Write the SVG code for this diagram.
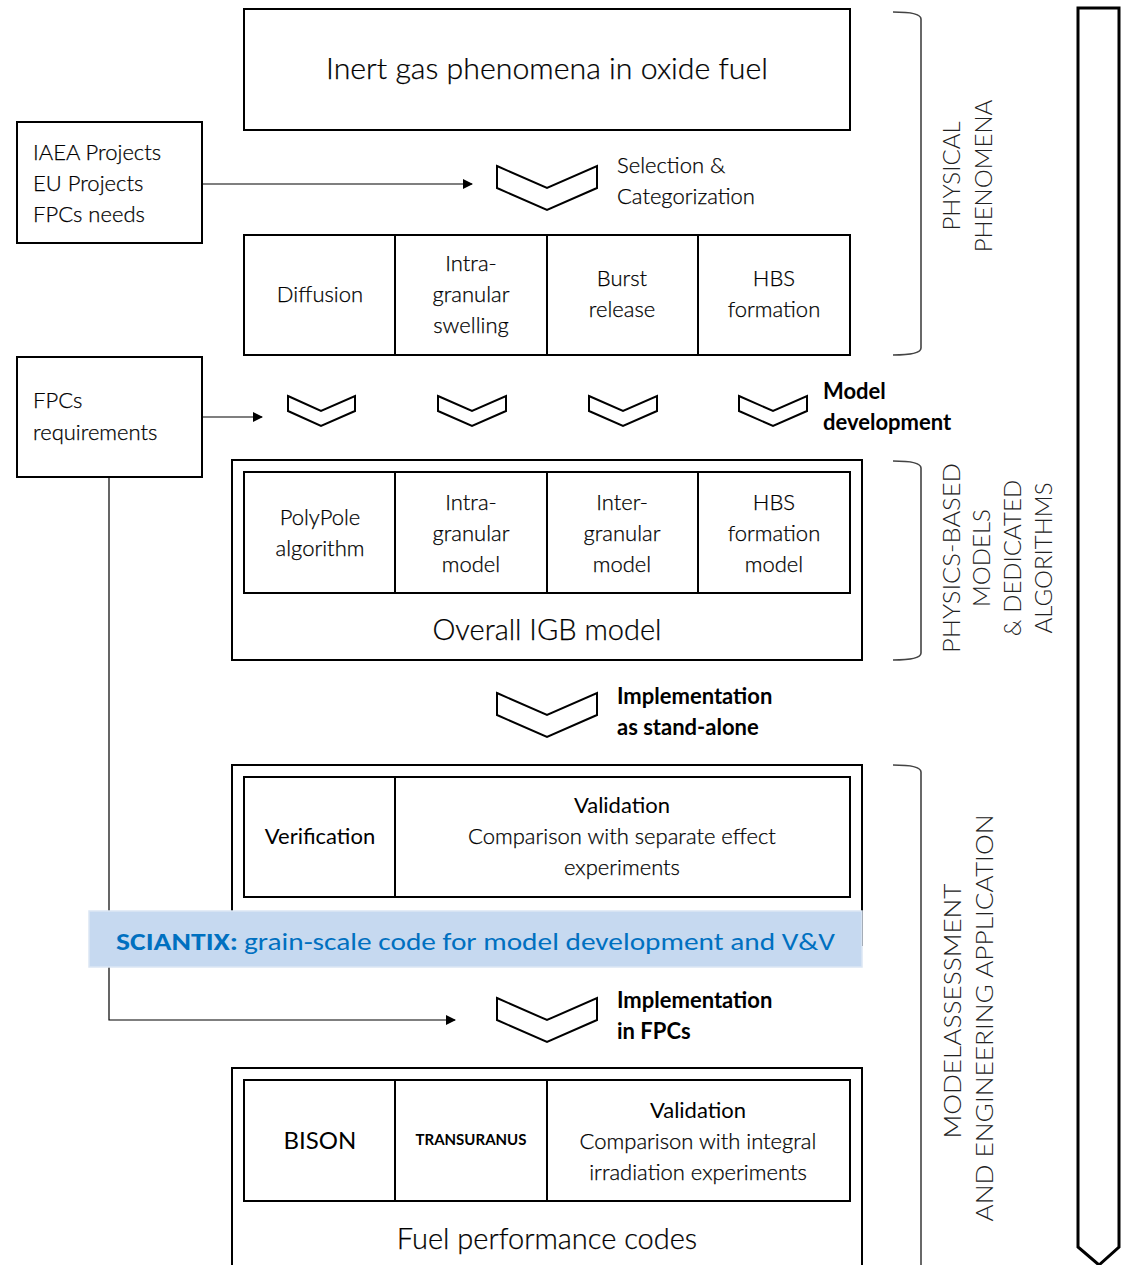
<svg xmlns="http://www.w3.org/2000/svg" width="1121" height="1265" viewBox="0 0 1121 1265">
  <style>
    .box { fill: #fff; stroke: #000; stroke-width: 2; }
    .cell { fill: none; stroke: #000; stroke-width: 2; }
    .chev { fill: #fff; stroke: #000; stroke-width: 2; stroke-linejoin: miter; }
    .brace { fill: none; stroke: #444; stroke-width: 1.6; }
    .link { fill: none; stroke: #000; stroke-width: 1.2; }
    .t { font-family: Lato, "Open Sans", "Liberation Sans", sans-serif; font-size: 22px; fill: #000; font-weight: 300; stroke: #000; stroke-width: 0.25; }
    .c { text-anchor: middle; }
    .b { font-weight: 700; stroke: none; }
    .m { font-weight: 400; stroke: none; }
    .big { font-size: 29px; }
    .code { font-size: 24px; font-weight: 400; stroke: none; }
    .tiny { font-size: 15px; }
    .side { font-family: Lato, "Open Sans", "Liberation Sans", sans-serif; font-size: 24px; fill: #222; text-anchor: middle; font-weight: 300; }
    .band { font-family: Carlito, "Open Sans", "Liberation Sans", sans-serif; font-size: 25px; fill: #0070c0; }
  </style>
  <defs>
    <marker id="arr" markerWidth="10" markerHeight="10" refX="9" refY="5" orient="auto" markerUnits="userSpaceOnUse">
      <path d="M0,0 L10,5 L0,10 Z" fill="#000"/>
    </marker>
  </defs>

  <rect width="1121" height="1265" fill="#fff"/>

  <!-- large progress arrow on the right -->
  <g id="flow-arrow">
    <path d="M1078,8 H1119 V1247 L1099,1265 L1078,1247 Z" fill="#fff" stroke="#000" stroke-width="3"/>
  </g>

  <!-- braces and stage labels -->
  <g id="stage-physical">
    <path class="brace" d="M893,12 Q921,12 921,19 V348 Q921,355 893,355"/>
    <text class="side" transform="translate(960,176) rotate(-90)">PHYSICAL</text>
    <text class="side" transform="translate(992,176) rotate(-90)">PHENOMENA</text>
  </g>
  <g id="stage-models">
    <path class="brace" d="M893,461 Q921,461 921,468 V653 Q921,660 893,660"/>
    <text class="side" transform="translate(960,558) rotate(-90)" textLength="190" lengthAdjust="spacingAndGlyphs">PHYSICS-BASED</text>
    <text class="side" transform="translate(990,558) rotate(-90)">MODELS</text>
    <text class="side" transform="translate(1021,558) rotate(-90)">&amp; DEDICATED</text>
    <text class="side" transform="translate(1052,558) rotate(-90)">ALGORITHMS</text>
  </g>
  <g id="stage-assessment">
    <path class="brace" d="M893,765 Q921,765 921,772 V1265"/>
    <text class="side" transform="translate(961,1011) rotate(-90)" textLength="255" lengthAdjust="spacingAndGlyphs">MODELASSESSMENT</text>
    <text class="side" transform="translate(993,1018) rotate(-90)" textLength="407" lengthAdjust="spacingAndGlyphs">AND ENGINEERING APPLICATION</text>
  </g>

  <!-- connectors -->
  <g id="connectors">
    <line class="link" x1="202" y1="184" x2="472" y2="184" marker-end="url(#arr)"/>
    <line class="link" x1="202" y1="417" x2="262" y2="417" marker-end="url(#arr)"/>
    <polyline class="link" points="109,477 109,1020 455,1020" marker-end="url(#arr)"/>
  </g>

  <!-- top phenomena box -->
  <g id="node-inert-gas">
    <rect class="box" x="244" y="9" width="606" height="121"/>
    <text class="t c big" x="547" y="79" textLength="442" lengthAdjust="spacingAndGlyphs">Inert gas phenomena in oxide fuel</text>
  </g>

  <g id="node-projects">
    <rect class="box" x="17" y="122" width="185" height="121"/>
    <text class="t" x="33" y="160">IAEA Projects</text>
    <text class="t" x="33" y="191">EU Projects</text>
    <text class="t" x="33" y="222">FPCs needs</text>
  </g>

  <g id="step-selection">
    <path class="chev" d="M497,166 L547,188 L597,166 V188 L547,210 L497,188 Z"/>
    <text class="t" x="617" y="173">Selection &amp;</text>
    <text class="t" x="617" y="204">Categorization</text>
  </g>

  <g id="node-phenomena">
    <rect class="box" x="244" y="235" width="606" height="120"/>
    <line class="cell" x1="395" y1="235" x2="395" y2="355"/>
    <line class="cell" x1="547" y1="235" x2="547" y2="355"/>
    <line class="cell" x1="698" y1="235" x2="698" y2="355"/>
    <text class="t c" x="320" y="302">Diffusion</text>
    <text class="t c" x="471" y="271">Intra-</text>
    <text class="t c" x="471" y="302">granular</text>
    <text class="t c" x="471" y="333">swelling</text>
    <text class="t c" x="622" y="286">Burst</text>
    <text class="t c" x="622" y="317">release</text>
    <text class="t c" x="774" y="286">HBS</text>
    <text class="t c" x="774" y="317">formation</text>
  </g>

  <g id="node-requirements">
    <rect class="box" x="17" y="357" width="185" height="120"/>
    <text class="t" x="33" y="408">FPCs</text>
    <text class="t" x="33" y="440">requirements</text>
  </g>

  <g id="step-model-development">
    <path class="chev" d="M288,396 L321,411 L355,396 V411 L321,426 L288,411 Z"/>
    <path class="chev" d="M438,396 L472,411 L506,396 V411 L472,426 L438,411 Z"/>
    <path class="chev" d="M589,396 L623,411 L657,396 V411 L623,426 L589,411 Z"/>
    <path class="chev" d="M739,396 L773,411 L807,396 V411 L773,426 L739,411 Z"/>
    <text class="t b" x="823" y="399">Model</text>
    <text class="t b" x="823" y="430">development</text>
  </g>

  <g id="node-igb-model">
    <rect class="box" x="232" y="460" width="630" height="200"/>
    <rect class="cell" x="244" y="472" width="606" height="121"/>
    <line class="cell" x1="395" y1="472" x2="395" y2="593"/>
    <line class="cell" x1="547" y1="472" x2="547" y2="593"/>
    <line class="cell" x1="698" y1="472" x2="698" y2="593"/>
    <text class="t c" x="320" y="525">PolyPole</text>
    <text class="t c" x="320" y="556">algorithm</text>
    <text class="t c" x="471" y="510">Intra-</text>
    <text class="t c" x="471" y="541">granular</text>
    <text class="t c" x="471" y="572">model</text>
    <text class="t c" x="622" y="510">Inter-</text>
    <text class="t c" x="622" y="541">granular</text>
    <text class="t c" x="622" y="572">model</text>
    <text class="t c" x="774" y="510">HBS</text>
    <text class="t c" x="774" y="541">formation</text>
    <text class="t c" x="774" y="572">model</text>
    <text class="t c big" x="547" y="640">Overall IGB model</text>
  </g>

  <g id="step-standalone">
    <path class="chev" d="M497,693 L547,715 L597,693 V715 L547,737 L497,715 Z"/>
    <text class="t b" x="617" y="704">Implementation</text>
    <text class="t b" x="617" y="735">as stand-alone</text>
  </g>

  <g id="node-vv">
    <rect class="box" x="232" y="765" width="630" height="180"/>
    <rect class="cell" x="244" y="777" width="606" height="120"/>
    <line class="cell" x1="395" y1="777" x2="395" y2="897"/>
    <text class="t c m" x="320" y="844">Verification</text>
    <text class="t c m" x="622" y="813">Validation</text>
    <text class="t c" x="622" y="844">Comparison with separate effect</text>
    <text class="t c" x="622" y="875">experiments</text>
  </g>

  <g id="node-sciantix">
    <rect x="89" y="911" width="773" height="56" fill="#c6d9f0" stroke="#dbe6f4" stroke-width="1.5"/>
    <text class="band" x="116" y="950" font-weight="700" textLength="122" lengthAdjust="spacingAndGlyphs">SCIANTIX:</text>
    <text class="band" x="244" y="950" textLength="591" lengthAdjust="spacingAndGlyphs">grain-scale code for model development and V&amp;V</text>
  </g>

  <g id="step-fpcs">
    <path class="chev" d="M497,998 L547,1020 L597,998 V1020 L547,1042 L497,1020 Z"/>
    <text class="t b" x="617" y="1008">Implementation</text>
    <text class="t b" x="617" y="1039">in FPCs</text>
  </g>

  <g id="node-fpcs">
    <path class="box" d="M232,1266 V1068 H862 V1266"/>
    <rect class="cell" x="244" y="1080" width="606" height="121"/>
    <line class="cell" x1="395" y1="1080" x2="395" y2="1201"/>
    <line class="cell" x1="547" y1="1080" x2="547" y2="1201"/>
    <text class="t c code" x="320" y="1149">BISON</text>
    <text class="t c b tiny" x="471" y="1145">TRANSURANUS</text>
    <text class="t c m" x="698" y="1118">Validation</text>
    <text class="t c" x="698" y="1149">Comparison with integral</text>
    <text class="t c" x="698" y="1180">irradiation experiments</text>
    <text class="t c big" x="547" y="1249">Fuel performance codes</text>
  </g>
</svg>
